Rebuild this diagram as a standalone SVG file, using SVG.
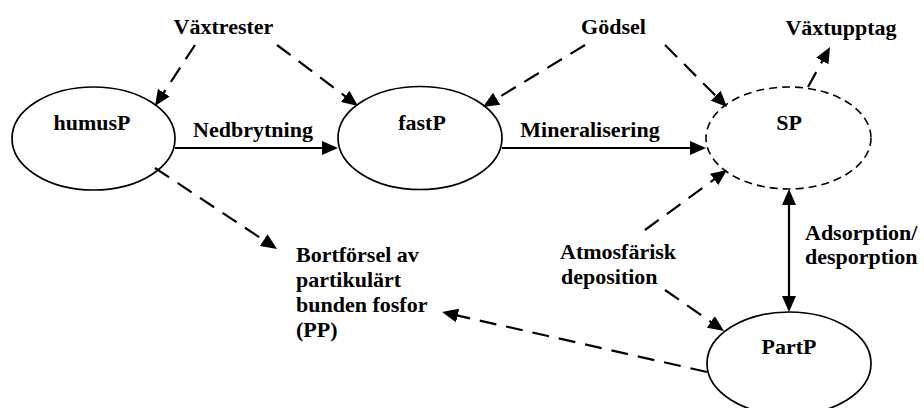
<svg xmlns="http://www.w3.org/2000/svg" width="924" height="408" viewBox="0 0 924 408">
  <style>
    text { font-family: "Liberation Serif", "Times New Roman", serif; font-weight: bold; font-size: 22px; fill: #000; }
    .mid { text-anchor: middle; }
    .node { fill: #fff; stroke: #000; stroke-width: 1.7; }
    .dotted { stroke-dasharray: 8 5; stroke-width: 1.6; }
    .flow { fill: none; stroke: #000; stroke-width: 2.2; }
    .dash { stroke-dasharray: 17 10; }
    .arr { marker-end: url(#head); }
  </style>
  <defs>
    <marker id="head" markerUnits="userSpaceOnUse" markerWidth="16" markerHeight="14" refX="12" refY="7" orient="auto-start-reverse">
      <path d="M0,0 L16,7 L0,14 z" fill="#000"/>
    </marker>
  </defs>

  <!-- pools -->
  <g id="humusP">
    <ellipse class="node" cx="93.5" cy="138.5" rx="81.5" ry="51.5"/>
    <text class="mid" x="92" y="130">humusP</text>
  </g>
  <g id="fastP">
    <ellipse class="node" cx="420" cy="138" rx="82" ry="51.5"/>
    <text class="mid" x="422" y="130">fastP</text>
  </g>
  <g id="SP">
    <ellipse class="node dotted" cx="788.5" cy="138" rx="82.5" ry="51"/>
    <text class="mid" x="789" y="130">SP</text>
  </g>
  <g id="PartP">
    <ellipse class="node" cx="789" cy="363.5" rx="82" ry="51.5"/>
    <text class="mid" x="789" y="354">PartP</text>
  </g>

  <!-- sources and sinks -->
  <g id="Vaxtrester">
    <text class="mid" x="223.5" y="34">Växtrester</text>
  </g>
  <g id="Godsel">
    <text class="mid" x="613.5" y="34">Gödsel</text>
  </g>
  <g id="Vaxtupptag">
    <text class="mid" x="841" y="35">Växtupptag</text>
  </g>
  <g id="Atmosfarisk">
    <text x="560" y="259">Atmosfärisk</text>
    <text x="561" y="284">deposition</text>
  </g>
  <g id="PP">
    <text x="296" y="262">Bortförsel av</text>
    <text x="296" y="287">partikulärt</text>
    <text x="296" y="312">bunden fosfor</text>
    <text x="296" y="337">(PP)</text>
  </g>

  <!-- flows -->
  <g id="connectors">
    <path class="flow dash arr" d="M195,45 L157.2,102.7"/>
    <path class="flow dash arr" d="M277,45 L354.8,103.6"/>
    <path class="flow dash arr" d="M585,45 L486.4,104.9"/>
    <path class="flow dash arr" d="M665,45 L724.2,104.2"/>
    <path class="flow dash arr" d="M808,87 L828.1,50.5"/>
    <path class="flow arr" d="M175,148 L334,148"/>
    <text class="mid" x="253" y="137">Nedbrytning</text>
    <path class="flow arr" d="M502,148 L702,148"/>
    <text class="mid" x="590" y="137">Mineralisering</text>
    <path class="flow dash arr" d="M645,230 L723.8,172.4"/>
    <path class="flow dash arr" d="M665,290 L720.7,328.7"/>
    <path class="flow dash arr" d="M155,168 L273.7,246.8"/>
    <path class="flow dash arr" d="M707,372 L445.9,312.9"/>
    <path class="flow" d="M789,193 L789,308" marker-start="url(#head)" marker-end="url(#head)"/>
    <text x="805" y="240">Adsorption/</text>
    <text x="805" y="264">desporption</text>
  </g>
</svg>
